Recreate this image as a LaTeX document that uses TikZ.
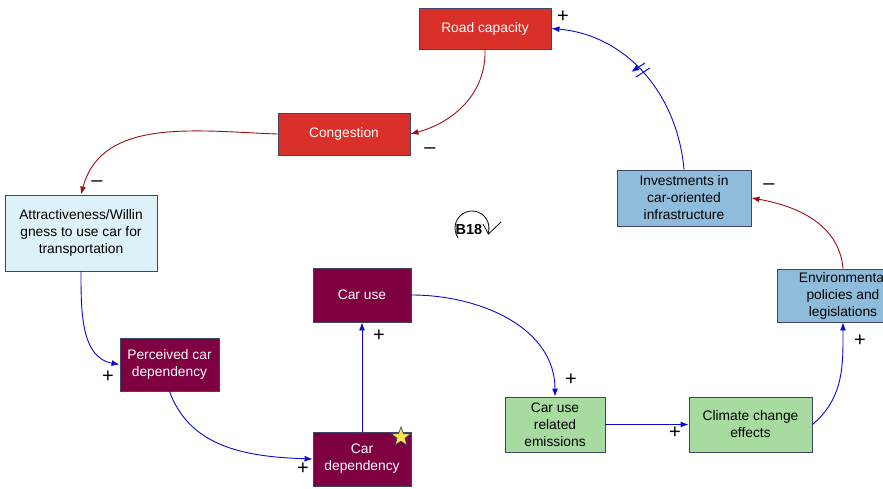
\documentclass[tikz,border=0pt]{standalone}
\usepackage{fontspec}
\setmainfont{Liberation Sans}
\usetikzlibrary{arrows.meta,shapes.geometric,decorations.markings}

\definecolor{boxline}{HTML}{3E4566}
\definecolor{redbox}{HTML}{D9312A}
\definecolor{maroon}{HTML}{7E0040}
\definecolor{paleblue}{HTML}{DDF1F8}
\definecolor{steelbox}{HTML}{8FBCDB}
\definecolor{greenbox}{HTML}{A8DBA0}
\definecolor{poslink}{HTML}{0A0ACC}
\definecolor{neglink}{HTML}{9A1010}
\definecolor{staryellow}{HTML}{FFE44C}

\tikzset{
  var/.style={draw=boxline, line width=0.9pt, inner sep=0pt, align=center,
    font=\fontsize{13.8}{17}\selectfont},
  hot/.style={var, fill=redbox, text=white},
  core/.style={var, fill=maroon, text=white},
  soft/.style={var, fill=paleblue, text=black},
  policy/.style={var, fill=steelbox, text=black},
  effect/.style={var, fill=greenbox, text=black},
  reinforcing/.style={draw=poslink, line width=0.9pt, -{Latex[length=8pt,width=6pt]}},
  opposing/.style={draw=neglink, line width=0.9pt, -{Latex[length=8pt,width=6pt]}},
  sign/.style={font=\fontsize{20}{20}\selectfont, text=black, inner sep=0pt},
  delaymark/.style={postaction={decorate, decoration={markings,
    mark=at position #1 with {\draw[poslink, line width=1pt]
      (-4pt,-8pt) -- (-1pt,8pt) (3pt,-8pt) -- (6pt,8pt);}}}}
}

\begin{document}
\begin{tikzpicture}[x=1pt, y=1pt]
  \useasboundingbox (0,0) rectangle (883,-488);
  \clip (0,0) rectangle (883,-488);

  % variables
  \node[hot, minimum width=132pt, minimum height=41pt] (road) at (485,-28.5) {Road capacity};
  \node[hot, minimum width=132pt, minimum height=42pt] (cong) at (344,-134) {Congestion};
  \node[soft, minimum width=152pt, minimum height=76pt] (attr) at (81,-233)
    {Attractiveness/Willin\\gness to use car for\\transportation};
  \node[policy, minimum width=134pt, minimum height=56pt] (inv) at (684,-198)
    {Investments in\\car-oriented\\infrastructure};
  \node[policy, minimum width=132pt, minimum height=53pt] (env) at (843,-295.5)
    {Environmental\\policies and\\legislations};
  \node[core, minimum width=99pt, minimum height=53pt] (perc) at (169.5,-364.5)
    {Perceived car\\dependency};
  \node[core, minimum width=98pt, minimum height=54pt] (dep) at (362,-459)
    {Car\\dependency};
  \node[core, minimum width=98pt, minimum height=54pt] (use) at (362,-295)
    {Car use};
  \node[effect, minimum width=100pt, minimum height=55pt] (emis) at (555,-424.5)
    {Car use\\related\\emissions};
  \node[effect, minimum width=123pt, minimum height=55pt] (clim) at (750.5,-424.5)
    {Climate change\\effects};

  % star marker on car dependency
  \node[star, star points=5, star point ratio=2.4, minimum size=20pt, inner sep=0pt,
    fill=staryellow, draw=boxline, line width=0.7pt] (flag) at (401,-437) {};

  % causal links
  \draw[opposing] (road.south) to[out=-88, in=15] (cong.east);
  \draw[opposing] (cong.west) to[out=178, in=75] (attr.north);
  \draw[reinforcing] (attr.south) to[out=-90, in=170] (perc.west);
  \draw[reinforcing] (perc.south) to[out=-70, in=178] (dep.west);
  \draw[reinforcing] (dep.north) -- (use.south);
  \draw[reinforcing] (use.east) to[out=0, in=90] (emis.north);
  \draw[reinforcing] (emis.east) -- (clim.west);
  \draw[reinforcing] (clim.east) to[out=40, in=-90] (env.south);
  \draw[opposing] (env.north) to[out=95, in=-10] (inv.east);
  \draw[reinforcing, delaymark=0.52] (inv.north) to[out=95, in=-5] (road.east);

  % polarities
  \node[sign] (s1) at (563,-17) {+};
  \node[sign] (s2) at (430,-151) {–};
  \node[sign] (s3) at (97,-184) {–};
  \node[sign] (s4) at (108,-377) {+};
  \node[sign] (s5) at (303,-469) {+};
  \node[sign] (s6) at (379,-336) {+};
  \node[sign] (s7) at (571,-380) {+};
  \node[sign] (s8) at (675,-433) {+};
  \node[sign] (s9) at (860,-341) {+};
  \node[sign] (s10) at (769,-187) {–};

  % balancing loop marker
  \node[font=\bfseries\fontsize{14.5}{14.5}\selectfont, inner sep=0pt] (loop) at (469,-230) {B18};
  \draw[line width=0.8pt]
    (472,-228) ++(215:17) arc[start angle=215, end angle=-20, radius=17];
  \draw[line width=0.8pt] (483,-224) -- (488.5,-234) -- (501,-222);
\end{tikzpicture}
\end{document}
